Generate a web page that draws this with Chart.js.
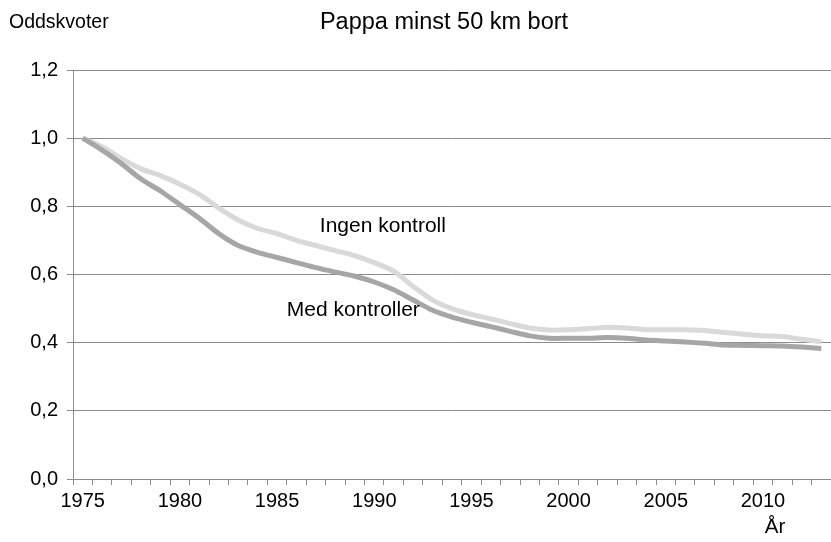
<!DOCTYPE html>
<html>
<head>
<meta charset="utf-8">
<script src="https://cdn.jsdelivr.net/npm/chart.js@4/dist/chart.umd.min.js"></script>
<style>
html,body{margin:0;padding:0;background:#fff;}
#wrap{position:relative;width:831px;height:542px;}
</style>
</head>
<body>
<div id="wrap"><canvas id="c" width="831" height="542"></canvas></div>
<script>
const years = [1975,1976,1977,1978,1979,1980,1981,1982,1983,1984,1985,1986,1987,1988,1989,1990,1991,1992,1993,1994,1995,1996,1997,1998,1999,2000,2001,2002,2003,2004,2005,2006,2007,2008,2009,2010,2011,2012,2013];
const ingenKontroll = [1.00,0.975,0.94,0.91,0.89,0.865,0.835,0.795,0.76,0.735,0.72,0.70,0.685,0.67,0.655,0.635,0.61,0.565,0.525,0.50,0.483,0.47,0.456,0.443,0.437,0.438,0.441,0.445,0.443,0.438,0.438,0.438,0.436,0.43,0.425,0.42,0.418,0.41,0.403];
const medKontroller = [1.00,0.965,0.925,0.88,0.845,0.805,0.765,0.72,0.685,0.665,0.65,0.635,0.62,0.607,0.595,0.578,0.555,0.525,0.495,0.475,0.46,0.447,0.433,0.42,0.413,0.413,0.413,0.415,0.413,0.408,0.405,0.402,0.398,0.393,0.392,0.391,0.39,0.387,0.383];
const yTicks = [0,0.2,0.4,0.6,0.8,1.0,1.2];
const title = "Pappa minst 50 km bort";
const yTitle = "Oddskvoter";
const xTitle = "År";
const seriesLabels = [
  {text:"Ingen kontroll", year:1987.2, value:0.742},
  {text:"Med kontroller", year:1985.5, value:0.496}
];

const FONT = "'Liberation Sans', Arial, sans-serif";
const GRID = '#8c8c8c';

const textPlugin = {
  id:'texts',
  afterDraw(chart){
    const ctx = chart.ctx;
    const xs = chart.scales.x, ys = chart.scales.y;
    ctx.save();
    ctx.fillStyle = '#000';
    ctx.textBaseline = 'middle';
    ctx.font = '19.5px ' + FONT;
    ctx.textAlign = 'left';
    ctx.fillText(yTitle, 9, 23);
    ctx.font = '23.5px ' + FONT;
    ctx.textAlign = 'center';
    ctx.fillText(title, 444, 23);
    ctx.font = '20.5px ' + FONT;
    ctx.fillText(xTitle, 775, 527);
    ctx.font = '21px ' + FONT;
    ctx.textAlign = 'left';
    const x0 = xs.getPixelForValue(0), x1 = xs.getPixelForValue(1);
    seriesLabels.forEach(l=>{
      const px = x0 + (l.year - years[0])*(x1-x0);
      ctx.fillText(l.text, px, ys.getPixelForValue(l.value));
    });
    ctx.restore();
  }
};

new Chart(document.getElementById('c'), {
  type:'line',
  data:{
    labels: years.map(String),
    datasets:[
      {label:'Med kontroller', data:medKontroller, borderColor:'#a6a6a6', borderWidth:5, pointRadius:0, tension:0.3, fill:false, order:0},
      {label:'Ingen kontroll', data:ingenKontroll, borderColor:'#d9d9d9', borderWidth:5, pointRadius:0, tension:0.3, fill:false, order:1}
    ]
  },
  options:{
    responsive:false,
    animation:false,
    layout:{padding:{top:70,left:0,right:0,bottom:0}},
    plugins:{legend:{display:false}, tooltip:{enabled:false}, title:{display:false}},
    scales:{
      x:{
        type:'category',
        offset:true,
        grid:{offset:true, drawOnChartArea:false, drawTicks:true, tickLength:6, color:GRID},
        border:{color:GRID, width:1},
        ticks:{autoSkip:false, maxRotation:0, minRotation:0, padding:4, color:'#000', font:{family:FONT, size:20},
          callback:(v,i)=> years[i]%5===0 ? String(years[i]) : ''},
        afterFit(s){ s.height = 63; }
      },
      y:{
        min:0, max:1.2,
        afterBuildTicks(s){ s.ticks = yTicks.map(v=>({value:v})); },
        grid:{color:GRID, tickLength:6, drawTicks:true},
        border:{color:GRID, width:1},
        ticks:{padding:9, color:'#000', font:{family:FONT, size:20},
          callback:v=> v.toFixed(1).replace('.', ',')},
        afterFit(s){ s.width = 73; }
      }
    }
  },
  plugins:[textPlugin]
});
</script>
</body>
</html>
